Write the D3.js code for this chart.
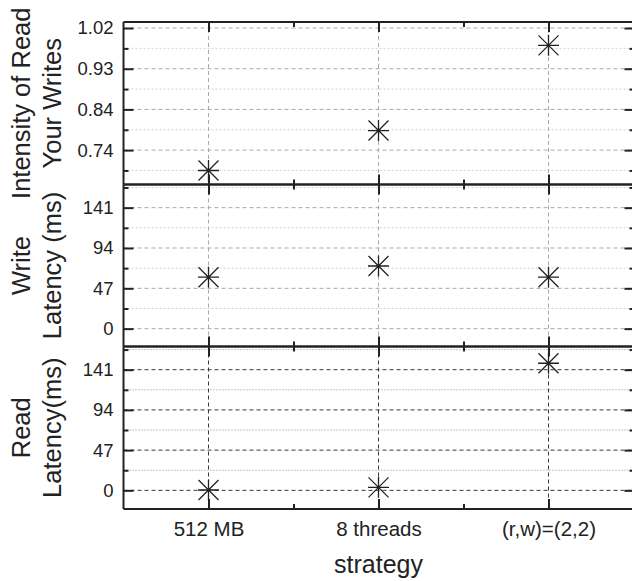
<!DOCTYPE html>
<html>
<head>
<meta charset="utf-8">
<script src="https://cdn.jsdelivr.net/npm/d3@7"></script>
<style>
  body { margin: 0; background: #fff; }
  text { font-family: "Liberation Sans", Arial, Helvetica, sans-serif; fill: #222; }
</style>
</head>
<body>
<svg id="chart" width="632" height="581"></svg>
<script>
// Strategies compared along the x axis
const categories = ["512 MB", "8 threads", "(r,w)=(2,2)"];

// One value per strategy for each panel
const readYourWrites = [0.699, 0.789, 0.981];
const writeLatency = [60, 73, 60];
const readLatency = [0.4, 3.5, 148.5];

// Major tick values for the y axes
const rywTicks = [0.7449, 0.8366, 0.9283, 1.02];
const latencyTicks = [0, 47, 94, 141];

// Axis titles (two lines each)
const rywTitle = ["Intensity of Read", "Your Writes"];
const writeTitle = ["Write", "Latency (ms)"];
const readTitle = ["Read", "Latency(ms)"];
const xTitle = "strategy";

const svg = d3.select("#chart");
const left = 123.5, right = 633.5;

const x = d3.scaleLinear().domain([0.5, categories.length + 0.5]).range([left, right]);
const catIdx = categories.map((_, i) => i + 1);
const catMid = catIdx.slice(0, -1).map(i => i + 0.5);

const lightGrid = { major: "#a9a9a9", majorDash: "4,3", minor: "#d2d2d2", minorDash: "2,2" };
const darkGrid = { major: "#3a3a3a", majorDash: "4,3", minor: "#8a8a8a", minorDash: "1,2" };

const panels = [
  { values: readYourWrites, ticks: rywTicks, fmt: d3.format(".2f"), domain: [0.6674, 1.0336],
    top: 22, bottom: 184.5, title: rywTitle, grid: lightGrid, showX: false },
  { values: writeLatency, ticks: latencyTicks, fmt: d3.format("d"), domain: [-20.8, 168],
    top: 184.5, bottom: 346.5, title: writeTitle, grid: lightGrid, showX: false },
  { values: readLatency, ticks: latencyTicks, fmt: d3.format("d"), domain: [-21.8, 168.1],
    top: 346.5, bottom: 509, title: readTitle, grid: darkGrid, showX: true }
];

// Asterisk marker: plus sign overlaid with a cross
function asterisk(r, d) {
  const p = d3.path();
  p.moveTo(-r, 0); p.lineTo(r, 0);
  p.moveTo(0, -r); p.lineTo(0, r);
  p.moveTo(-d, -d); p.lineTo(d, d);
  p.moveTo(-d, d); p.lineTo(d, -d);
  return p.toString();
}

function styleAxis(g) {
  g.select(".domain").remove();
  g.selectAll(".tick line").attr("stroke", "#222").attr("stroke-width", 2);
  g.attr("font-family", null).attr("font-size", null);
}

panels.forEach(pn => {
  const y = d3.scaleLinear().domain(pn.domain).range([pn.bottom, pn.top]);
  const step = pn.ticks[1] - pn.ticks[0];
  const minor = [pn.ticks[0] - step / 2].concat(pn.ticks.map(t => t + step / 2))
    .filter(v => y(v) > pn.top + 1 && y(v) < pn.bottom - 1);

  const g = svg.append("g");
  const clipId = "clip" + pn.top;
  svg.append("clipPath").attr("id", clipId)
    .append("rect").attr("x", left).attr("y", pn.top).attr("width", right - left).attr("height", pn.bottom - pn.top);
  const grid = g.append("g").attr("clip-path", `url(#${clipId})`);

  // horizontal grid lines
  grid.selectAll(".minor").data(minor).join("line")
    .attr("x1", left).attr("x2", right).attr("y1", d => y(d)).attr("y2", d => y(d))
    .attr("stroke", pn.grid.minor).attr("stroke-dasharray", pn.grid.minorDash).attr("stroke-width", 1);
  grid.selectAll(".major").data(pn.ticks).join("line")
    .attr("x1", left).attr("x2", right).attr("y1", d => y(d)).attr("y2", d => y(d))
    .attr("stroke", pn.grid.major).attr("stroke-dasharray", pn.grid.majorDash).attr("stroke-width", 1);
  // vertical grid lines at each strategy
  grid.selectAll(".vgrid").data(catIdx).join("line")
    .attr("x1", d => x(d)).attr("x2", d => x(d)).attr("y1", pn.top).attr("y2", pn.bottom)
    .attr("stroke", pn.grid.major).attr("stroke-dasharray", pn.grid.majorDash).attr("stroke-width", 1);

  // left y axis: major with labels, minor without
  g.append("g").attr("transform", `translate(${left},0)`)
    .call(d3.axisLeft(y).tickValues(pn.ticks).tickFormat(pn.fmt).tickSize(-10).tickPadding(10))
    .call(styleAxis)
    .selectAll("text").attr("font-size", 18.5).attr("fill", "#222");
  g.append("g").attr("transform", `translate(${left},0)`)
    .call(d3.axisLeft(y).tickValues(minor).tickFormat("").tickSize(-5)).call(styleAxis);
  // right y axis
  g.append("g").attr("transform", `translate(${right},0)`)
    .call(d3.axisRight(y).tickValues(pn.ticks).tickFormat("").tickSize(-9)).call(styleAxis);
  g.append("g").attr("transform", `translate(${right},0)`)
    .call(d3.axisRight(y).tickValues(minor).tickFormat("").tickSize(-4)).call(styleAxis);

  // x ticks on top and bottom edges
  g.append("g").attr("transform", `translate(0,${pn.top})`)
    .call(d3.axisTop(x).tickValues(catIdx).tickFormat("").tickSize(-10)).call(styleAxis);
  g.append("g").attr("transform", `translate(0,${pn.top})`)
    .call(d3.axisTop(x).tickValues(catMid).tickFormat("").tickSize(-5)).call(styleAxis);
  const bx = g.append("g").attr("transform", `translate(0,${pn.bottom})`)
    .call(d3.axisBottom(x).tickValues(catIdx)
      .tickFormat(pn.showX ? (d => categories[d - 1]) : "").tickSize(-10).tickPadding(12.5))
    .call(styleAxis);
  bx.selectAll("text").attr("font-size", 20.5).attr("fill", "#222");
  g.append("g").attr("transform", `translate(0,${pn.bottom})`)
    .call(d3.axisBottom(x).tickValues(catMid).tickFormat("").tickSize(-5)).call(styleAxis);

  // frame
  g.append("line").attr("x1", left).attr("x2", right).attr("y1", pn.top).attr("y2", pn.top)
    .attr("stroke", "#222").attr("stroke-width", 2);
  g.append("line").attr("x1", left).attr("x2", right).attr("y1", pn.bottom).attr("y2", pn.bottom)
    .attr("stroke", "#222").attr("stroke-width", 2);
  g.append("line").attr("x1", left).attr("x2", left).attr("y1", pn.top).attr("y2", pn.bottom)
    .attr("stroke", "#222").attr("stroke-width", 2);

  // markers
  g.selectAll(".pt").data(pn.values).join("path")
    .attr("transform", (d, i) => `translate(${x(i + 1)},${y(d)})`)
    .attr("d", asterisk(10.5, 10))
    .attr("fill", "none").attr("stroke", "#222").attr("stroke-width", 1.3);

  // y title, two lines
  const cy = (pn.top + pn.bottom) / 2;
  [30, 61].forEach((bx0, k) => {
    svg.append("text")
      .attr("transform", `translate(${bx0},${cy}) rotate(-90)`)
      .attr("text-anchor", "middle").attr("font-size", 25.5)
      .text(pn.title[k]);
  });
});

// x title
svg.append("text").attr("x", x(2)).attr("y", 573).attr("text-anchor", "middle")
  .attr("font-size", 25).text(xTitle);
</script>
</body>
</html>
